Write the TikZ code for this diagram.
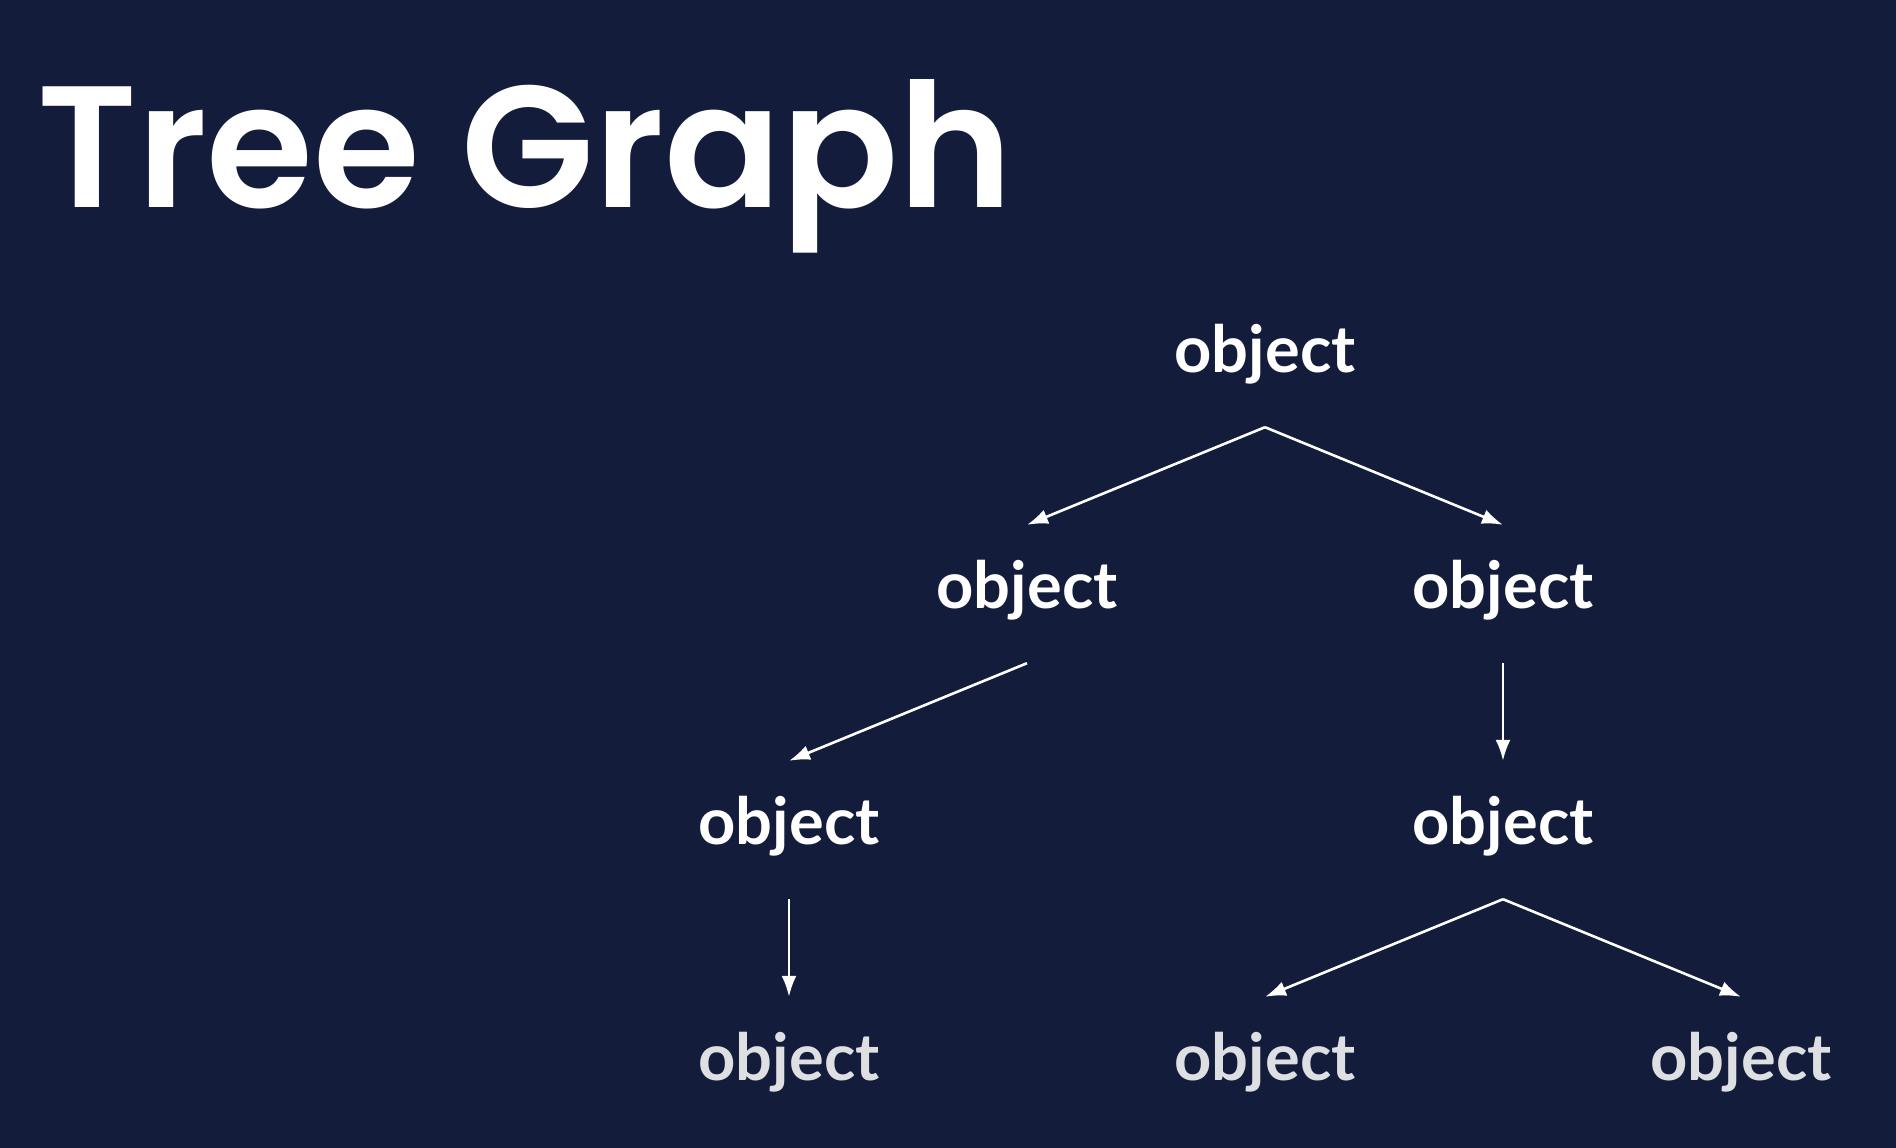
\documentclass[tikz,border=0pt]{standalone}
\usepackage{fontspec}
\usetikzlibrary{arrows, arrows.meta}
\setmainfont{Lato}
\newfontfamily\titlefont{Poppins}[BoldFont={Poppins SemiBold}]
\definecolor{bgnavy}{HTML}{131C3A}
\definecolor{lowgray}{HTML}{DEDFE2}

\begin{document}
\begin{tikzpicture}[>={Latex[length=21pt, width=15pt]}, x=1pt, y=-1pt,
	obj/.style={anchor=base, inner sep=0pt, text height=83pt, text depth=55pt, text=white, font=\bfseries\fontsize{65}{65}\selectfont},
	link/.style={->, white, line width=2.6pt}]

\fill[bgnavy] (0, 0) rectangle (1896, 1148);

\node[anchor=base west, inner sep=0pt, text=white, font=\titlefont\bfseries\fontsize{173}{173}\selectfont] (title) at (37, 207) {Tree Graph};

% levels of the tree, 238 apart
\node[obj] (root) at (1265, 372) {object};

\node[obj] (left) at (1027, 608) {object};
\node[obj] (right) at (1503, 608) {object};

\node[obj] (leftleft) at (789, 844) {object};
\node[obj] (rightmid) at (1503, 844) {object};

\node[obj, text=lowgray] (leaf1) at (789, 1080) {object};
\node[obj, text=lowgray] (leaf2) at (1265, 1080) {object};
\node[obj, text=lowgray] (leaf3) at (1741, 1080) {object};

	\foreach \a/\b in {root/left, root/right, left/leftleft, right/rightmid, leftleft/leaf1, rightmid/leaf2, rightmid/leaf3}
		\draw[link] (\a.south) -- (\b.north);

\end{tikzpicture}
\end{document}
